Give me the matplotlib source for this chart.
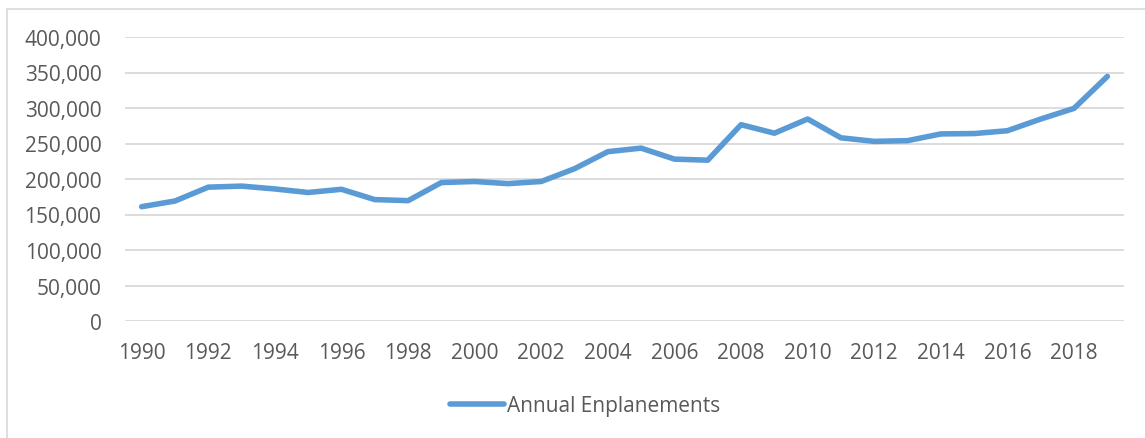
import matplotlib.pyplot as plt
from matplotlib.patches import Rectangle
from matplotlib.ticker import FuncFormatter

plt.rcParams['font.family'] = ['Open Sans', 'DejaVu Sans']

years = list(range(1990, 2020))
enplanements = [161000, 169000, 188500, 190000, 186000, 181000, 185500, 171000,
                169500, 195000, 196500, 193500, 196500, 214500, 238500, 243500,
                228000, 226500, 276500, 264500, 284500, 258000, 253000, 254000,
                263500, 264000, 268000, 284500, 299500, 344500]
y_ticks = [0, 50000, 100000, 150000, 200000, 250000, 300000, 350000, 400000]
x_labels = [str(y) if y % 2 == 0 else '' for y in years]

W, H = 1145, 439
fig = plt.figure(figsize=(W / 100, H / 100), dpi=100)

# chart frame, open on the right and bottom
fig.patches.append(Rectangle((6.5 / W, -0.1), 1.2, 1 - 9.5 / H + 0.1,
                             transform=fig.transFigure, fill=False,
                             edgecolor='#d9d9d9', linewidth=1.2))

ax = fig.add_axes([125 / W, 1 - 322 / H, (1124 - 125) / W, (322 - 38) / H])
ax.plot(range(len(years)), enplanements, color='#5b9bd5', linewidth=4,
        solid_capstyle='round', solid_joinstyle='round',
        label='Annual Enplanements')

ax.set_xlim(-0.5, len(years) - 0.5)
ax.set_ylim(0, 400000)
ax.set_yticks(y_ticks)
ax.yaxis.set_major_formatter(FuncFormatter(lambda v, p: f'{int(v):,}'))
ax.set_xticks(range(len(years)))
ax.set_xticklabels(x_labels)

ax.grid(axis='y', color='#d9d9d9', linewidth=1.3)
ax.set_axisbelow(True)
for s in ax.spines.values():
    s.set_visible(False)
ax.tick_params(axis='both', length=0, labelsize=15, labelcolor='#595959')
ax.tick_params(axis='y', pad=17)
ax.tick_params(axis='x', pad=15)

leg = ax.legend(loc='center', bbox_to_anchor=(585 / W, 1 - 407 / H),
                bbox_transform=fig.transFigure, frameon=False, fontsize=15,
                handlelength=2.6, handletextpad=0.15, borderpad=0)
for t in leg.get_texts():
    t.set_color('#595959')

fig.savefig('out.png', dpi=100)
